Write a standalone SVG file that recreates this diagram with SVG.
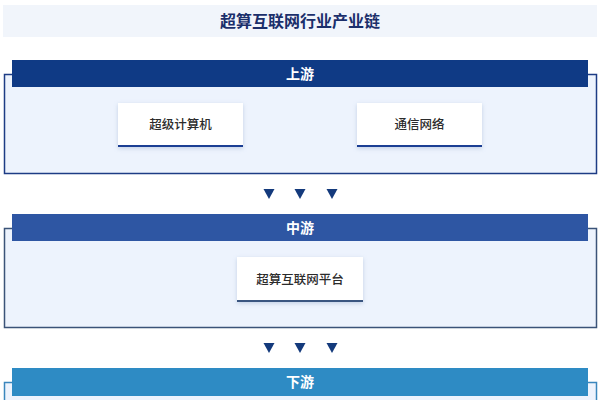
<svg xmlns="http://www.w3.org/2000/svg" width="612" height="400" viewBox="0 0 612 400">
<defs>
<filter id="sh" x="-20%" y="-20%" width="140%" height="160%">
<feDropShadow dx="0" dy="1.5" stdDeviation="2" flood-color="#8ea3c8" flood-opacity="0.45"/>
</filter>
<style>
.t{font-family:"Noto Sans CJK SC","Liberation Sans",sans-serif;}
.title{font-size:16px;font-weight:bold;fill:#1b2f6b;}
.hd{font-size:14px;font-weight:bold;fill:#ffffff;}
.card{fill:#ffffff;filter:url(#sh);}
.ct{font-size:12.5px;font-weight:500;fill:#2b2b2b;}
.box{fill:#edf3fd;stroke-width:1.5;}
.tri{fill:#143a7c;}
</style>
</defs>
<rect x="0" y="0" width="612" height="400" fill="#ffffff"/>
<g id="title">
<rect x="3" y="5" width="594" height="32" fill="#f1f5fb"/>
<text class="t title" x="300" y="27" text-anchor="middle">超算互联网行业产业链</text>
</g>
<g id="upstream">
<rect class="box" x="4.5" y="74.5" width="592" height="99" stroke="#1d3c85"/>
<rect x="12" y="60" width="576" height="27" fill="#0f3a85"/>
<text class="t hd" x="300" y="78.5" text-anchor="middle">上游</text>
</g>
<g id="supercomputer">
<rect class="card" x="118" y="103" width="125" height="44"/>
<rect x="118" y="145" width="125" height="2" fill="#1b3e93"/>
<text class="t ct" x="180.5" y="129" text-anchor="middle">超级计算机</text>
</g>
<g id="network">
<rect class="card" x="357" y="103" width="125" height="44"/>
<rect x="357" y="145" width="125" height="2" fill="#1b3e93"/>
<text class="t ct" x="419.5" y="129" text-anchor="middle">通信网络</text>
</g>
<g id="midstream">
<rect class="box" x="4.5" y="228.5" width="592" height="99" stroke="#3b5378"/>
<rect x="12" y="214" width="576" height="27" fill="#2e56a3"/>
<text class="t hd" x="300" y="232.5" text-anchor="middle">中游</text>
</g>
<g id="platform">
<rect class="card" x="237" y="257" width="126" height="45"/>
<rect x="237" y="300" width="126" height="2" fill="#3a5580"/>
<text class="t ct" x="300" y="283.5" text-anchor="middle">超算互联网平台</text>
</g>
<g id="downstream">
<rect class="box" x="4.5" y="382.5" width="592" height="30" stroke="#3a86bd"/>
<rect x="12" y="368" width="576" height="28" fill="#2e8bc4"/>
<text class="t hd" x="300" y="387" text-anchor="middle">下游</text>
</g>
<g id="connectors">
<polygon class="tri" points="263.5,189 274.5,189 269,199"/>
<polygon class="tri" points="294.5,189 305.5,189 300,199"/>
<polygon class="tri" points="326.5,189 337.5,189 332,199"/>
<polygon class="tri" points="263.5,343 274.5,343 269,353"/>
<polygon class="tri" points="294.5,343 305.5,343 300,353"/>
<polygon class="tri" points="326.5,343 337.5,343 332,353"/>
</g>
</svg>
